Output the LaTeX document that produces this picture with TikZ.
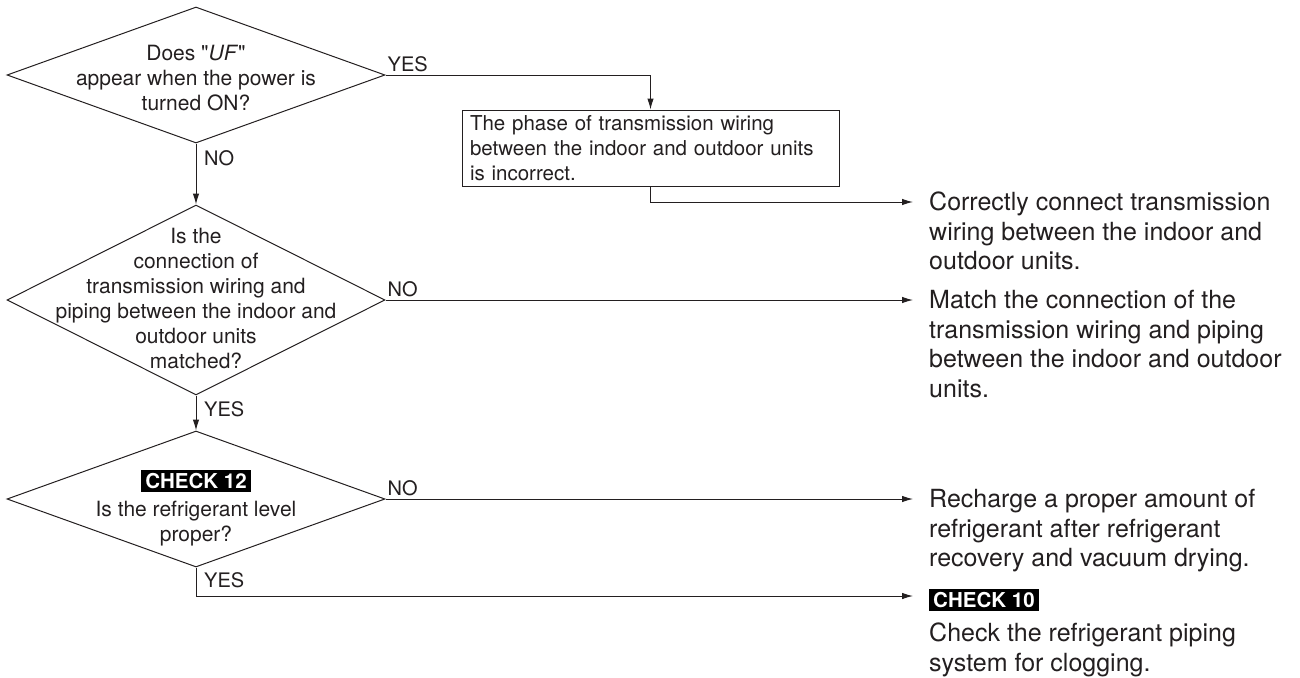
\documentclass[tikz,border=0pt]{standalone}
\usepackage{fontspec}
\setmainfont{TeX Gyre Heros}
\usetikzlibrary{arrows.meta, shapes.geometric, positioning}
\definecolor{inkgray}{RGB}{35, 31, 32}

\tikzset{
  decision/.style={draw=inkgray, diamond, inner sep=0pt, line width=1pt,
    minimum width=378pt},
  qtext/.style={align=center, text=inkgray, inner sep=0pt,
    font=\fontsize{21}{25}\selectfont},
  faultbox/.style={draw=inkgray, line width=1pt, align=left, text=inkgray,
    minimum width=377pt, minimum height=76pt, text width=361pt, inner xsep=8pt,
    font=\fontsize{20.5}{25}\selectfont},
  answer/.style={align=left, anchor=north west, text=inkgray, inner sep=0pt,
    font=\fontsize{25}{29.5}\selectfont},
  lbl/.style={text=inkgray, inner sep=0pt, font=\fontsize{20}{24}\selectfont},
  tag/.style={fill=black, text=white, inner xsep=4pt, inner ysep=3.5pt,
    font=\fontsize{20.5}{21}\selectfont\bfseries},
  flow/.style={draw=inkgray, line width=1pt, -{Latex[length=11pt, width=6.5pt]}}
}

\begin{document}
\begin{tikzpicture}[x=1pt, y=-1pt]
  \useasboundingbox (0,0) rectangle (1300,677);

  % First check: UF on power up
  \node[decision, minimum height=136pt] (q1) at (196,75) {};
  \node[qtext, yshift=-3pt] at (q1) {Does \textquotedbl\textit{UF}\textquotedbl\\appear when the power is\\turned ON?};

  % Wiring / piping match
  \node[decision, minimum height=190pt] (q2) at (196,300) {};
  \node[qtext, yshift=2pt] at (q2) {Is the\\connection of\\transmission wiring and\\piping between the indoor and\\outdoor units\\matched?};

  % Refrigerant level
  \node[decision, minimum height=136pt] (q3) at (196,499) {};
  \node[tag] (chk12) at (196,481) {CHECK 12};
  \node[qtext] (q3txt) at (196,524) {Is the refrigerant level\\proper?};

  % Wrong phase
  \node[faultbox] (fault) at (650.5,148) {The phase of transmission wiring\\between the indoor and outdoor units\\is incorrect.};

  % Arrow ends on the right
  \coordinate (end1) at (913,202);
  \coordinate (end2) at (913,300);
  \coordinate (end3) at (913,499);
  \coordinate (end4) at (913,596);

  % Remedies
  \node[answer] (fix1) at (929,192) {Correctly connect transmission\\wiring between the indoor and\\outdoor units.};
  \node[answer] (fix2) at (929,290) {Match the connection of the\\transmission wiring and piping\\between the indoor and outdoor\\units.};
  \node[answer] (fix3) at (929,489) {Recharge a proper amount of\\refrigerant after refrigerant\\recovery and vacuum drying.};
  \node[tag, anchor=west] (chk10) at (929,600) {CHECK 10};
  \node[answer] (fix4) at (929,623) {Check the refrigerant piping\\system for clogging.};

  % Connectors
  \draw[flow] (q1.east) -| (fault.north);
  \node[lbl, anchor=south west, xshift=2pt, yshift=3pt] at (q1.east) {YES};
  \draw[flow] (fault.south) |- (end1);

  \draw[flow] (q1.south) -- (q2.north);
  \node[lbl, anchor=north west, xshift=8pt, yshift=-7pt] at (q1.south) {NO};

  \draw[flow] (q2.east) -- (end2);
  \node[lbl, anchor=south west, xshift=2pt, yshift=3pt] at (q2.east) {NO};

  \draw[flow] (q2.south) -- (q3.north);
  \node[lbl, anchor=north west, xshift=8pt, yshift=-6pt] at (q2.south) {YES};

  \draw[flow] (q3.east) -- (end3);
  \node[lbl, anchor=south west, xshift=2pt, yshift=3pt] at (q3.east) {NO};

  \draw[flow] (q3.south) |- (end4);
  \node[lbl, anchor=north west, xshift=8pt, yshift=-5pt] at (q3.south) {YES};

\end{tikzpicture}
\end{document}
